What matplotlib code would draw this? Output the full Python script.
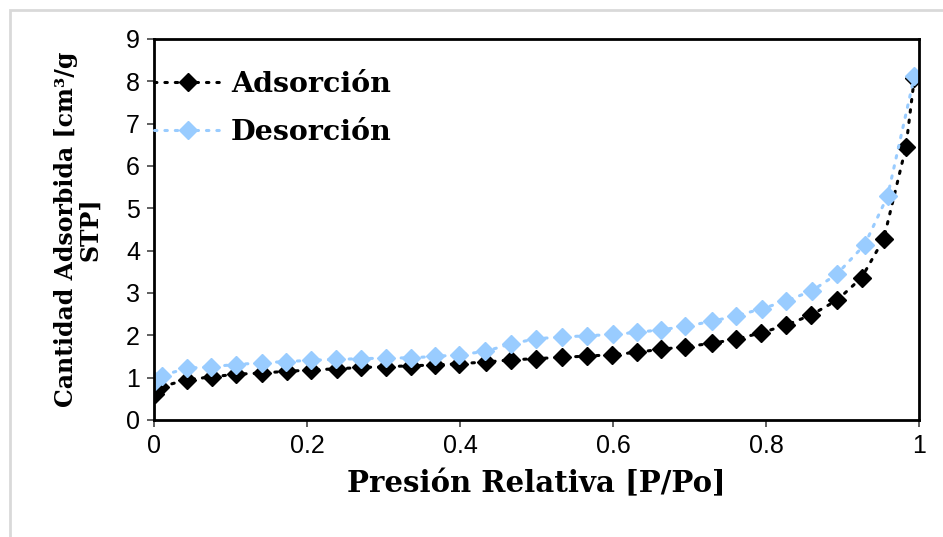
import matplotlib
matplotlib.use("Agg")
import matplotlib.pyplot as plt
from matplotlib.patches import Rectangle

# Adsorption branch
p_ads = [0.001, 0.008, 0.043, 0.076, 0.107, 0.141, 0.174, 0.205, 0.239, 0.271,
         0.303, 0.336, 0.367, 0.399, 0.434, 0.467, 0.500, 0.533, 0.566, 0.599,
         0.631, 0.663, 0.694, 0.729, 0.761, 0.794, 0.826, 0.859, 0.893, 0.925,
         0.954, 0.983, 0.994]
v_ads = [0.62, 0.78, 0.95, 1.02, 1.08, 1.11, 1.15, 1.18, 1.21, 1.24,
         1.26, 1.28, 1.30, 1.33, 1.37, 1.42, 1.45, 1.48, 1.51, 1.54,
         1.60, 1.67, 1.73, 1.81, 1.91, 2.06, 2.24, 2.48, 2.83, 3.36,
         4.28, 6.45, 8.08]

# Desorption branch
p_des = [0.001, 0.010, 0.043, 0.075, 0.107, 0.141, 0.173, 0.205, 0.238, 0.271,
         0.303, 0.336, 0.367, 0.399, 0.433, 0.467, 0.500, 0.533, 0.566, 0.600,
         0.631, 0.663, 0.694, 0.729, 0.761, 0.795, 0.826, 0.860, 0.893, 0.929,
         0.959, 0.994]
v_des = [0.93, 1.05, 1.22, 1.26, 1.31, 1.35, 1.38, 1.41, 1.43, 1.45,
         1.46, 1.47, 1.50, 1.54, 1.62, 1.80, 1.92, 1.96, 1.99, 2.02,
         2.07, 2.13, 2.21, 2.33, 2.46, 2.63, 2.81, 3.05, 3.45, 4.14,
         5.29, 8.12]

x_ticks = [0, 0.2, 0.4, 0.6, 0.8, 1]
x_tick_labels = ["0", "0.2", "0.4", "0.6", "0.8", "1"]
y_ticks = list(range(0, 10))

label_font = dict(family="DejaVu Serif", weight="bold")
tick_font = "Liberation Sans"
blue = "#99ccff"

fig = plt.figure(figsize=(9.43, 5.37), dpi=100)
ax = fig.add_axes([0.1633, 0.2179, 0.8112, 0.7095])

# light grey outer frame (only top and left edges visible)
fig.patches.append(Rectangle((10 / 943, -0.1), 1.2, 1 - 10 / 537 + 0.1,
                             transform=fig.transFigure, fill=False,
                             edgecolor="#d9d9d9", linewidth=2))

ax.plot(p_ads, v_ads, color="black", linestyle=(0, (0.8, 2.6)),
        linewidth=2.2, dash_capstyle="round", marker="D", markersize=9,
        markeredgecolor="black", markerfacecolor="black", label="Adsorción")
ax.plot(p_des, v_des, color=blue, linestyle=(0, (0.8, 2.6)),
        linewidth=2.2, dash_capstyle="round", marker="D", markersize=9,
        markeredgecolor=blue, markerfacecolor=blue, label="Desorción")

ax.set_xlim(0, 1)
ax.set_ylim(0, 9)
ax.set_xticks(x_ticks)
ax.set_xticklabels(x_tick_labels)
ax.set_yticks(y_ticks)

for s in ax.spines.values():
    s.set_linewidth(2)
    s.set_color("black")

ax.tick_params(axis="both", direction="out", length=5, width=1.2,
               color="#444444", labelsize=18, pad=5)
for lab in ax.get_xticklabels() + ax.get_yticklabels():
    lab.set_family(tick_font)

ax.set_xlabel("Presión Relativa [P/Po]", fontsize=21, labelpad=8, **label_font)
ax.set_ylabel("Cantidad Adsorbida [cm³/g\nSTP]", fontsize=17,
              labelpad=17, linespacing=1.05, **label_font)

leg = ax.legend(loc="upper left", frameon=False,
                prop=dict(family="DejaVu Serif", weight="bold", size=20.5),
                handlelength=2.4, handletextpad=0.3, labelspacing=0.75,
                borderpad=0, borderaxespad=0, bbox_to_anchor=(0.0, 0.917))

fig.savefig("out.png", dpi=100, facecolor="white")
